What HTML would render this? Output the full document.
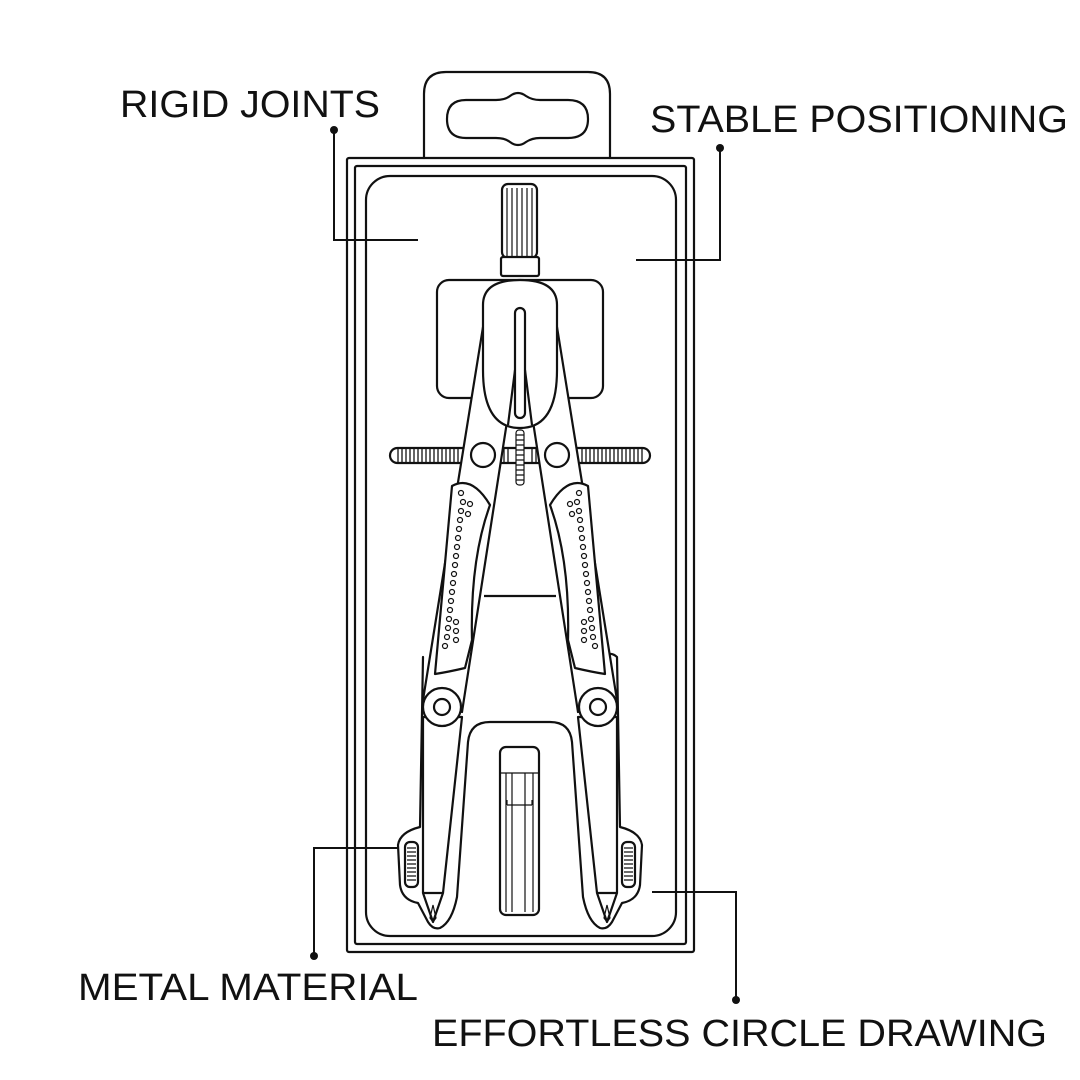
<!DOCTYPE html>
<html><head><meta charset="utf-8"><style>
html,body{margin:0;padding:0;background:#fff;}
svg{display:block}
text{font-family:"Liberation Sans",sans-serif;fill:#111;}
</style></head><body>
<svg width="1080" height="1080" viewBox="0 0 1080 1080" xmlns="http://www.w3.org/2000/svg">
<g fill="none" stroke="#111" stroke-width="2.2" stroke-linejoin="round" stroke-linecap="round">
<!-- hanger -->
<path d="M424,158 L424,94 Q424,72 446,72 L588,72 Q610,72 610,94 L610,158"/>
<path d="M466,100 L496,100 Q505,100 510,96 Q518,90 526,96 Q532,100 540,100 L568,100 Q588,100 588,119 Q588,138 568,138 L540,138 Q532,138 526,142 Q518,148 510,142 Q505,138 496,138 L466,138 Q447,138 447,119 Q447,100 466,100Z"/>
<!-- package -->
<rect x="347" y="158" width="347" height="794" rx="2"/>
<rect x="355" y="166" width="331" height="778" rx="2"/>
<rect x="366" y="176" width="310" height="760" rx="24"/>
<!-- head plate -->
<rect x="437" y="280" width="166" height="118" rx="12"/>
<!-- back plate lower -->
<path d="M423,657 L420,827 Q400,832 398,845 L400,885 Q402,900 418,903 L428,922 Q433,930 440,928 Q452,922 457,897 L468,742 Q470,722 490,722 L550,722 Q570,722 572,742 L583,897 Q588,922 600,928 Q607,930 612,922 L622,903 Q638,900 640,885 L642,845 Q640,832 620,827 L617,657 Q612,652 605,655"/>
<!-- bar -->
<rect x="390" y="448" width="260" height="15" rx="7.5" fill="#fff"/>
</g>
<!-- bar ridges -->
<g stroke="#111" stroke-width="1.3">
<path d="M398,449V462M402,449V462M406,449V462M410,449V462M414,449V462M418,449V462M422,449V462M426,449V462M430,449V462M434,449V462M438,449V462M442,449V462M446,449V462M450,449V462M454,449V462M458,449V462M500,449V462M504,449V462M508,449V462M532,449V462M536,449V462M540,449V462M582,449V462M586,449V462M590,449V462M594,449V462M598,449V462M602,449V462M606,449V462M610,449V462M614,449V462M618,449V462M622,449V462M626,449V462M630,449V462M634,449V462M638,449V462M642,449V462"/>
</g>
<g fill="#fff" stroke="#111" stroke-width="2.2" stroke-linejoin="round">
<!-- knob -->
<rect x="502" y="184" width="35" height="74" rx="6"/>
<rect x="501" y="257" width="38" height="19" rx="2"/>
<!-- legs upper -->
<path d="M483,327 L423,700 L462,712 L515,370Z"/>
<path d="M557,327 L617,700 L578,712 L525,370Z"/>
<!-- head -->
<path d="M483,305 Q483,280 520,280 Q557,280 557,305 L557,370 Q557,428 520,428 Q483,428 483,370Z"/>
<rect x="515" y="308" width="10" height="110" rx="5"/>
<path d="M515,370 L508,425 M525,370 L532,425"/>
<circle cx="483" cy="455" r="12"/>
<circle cx="557" cy="455" r="12"/>
<!-- grips -->
<path d="M452,486 Q472,475 490,505 Q470,560 472,640 L465,668 Q448,672 435,674 Z"/>
<path d="M588,486 Q568,475 550,505 Q570,560 568,640 L575,668 Q592,672 605,674 Z"/>
<!-- cross line -->
<path d="M484,596 L556,596" fill="none"/>
<!-- lower legs -->
<path d="M423,717 L462,717 L443,893 L433,922 L423,893Z"/>
<path d="M617,717 L578,717 L597,893 L607,922 L617,893Z"/>
<path d="M423,893 L443,893 M597,893 L617,893" fill="none"/>
<circle cx="442" cy="707" r="19"/>
<circle cx="442" cy="707" r="8"/>
<circle cx="598" cy="707" r="19"/>
<circle cx="598" cy="707" r="8"/>
<!-- small knobs -->
<rect x="405" y="842" width="13" height="45" rx="5"/>
<rect x="622" y="842" width="13" height="45" rx="5"/>
<!-- lead case -->
<rect x="500" y="747" width="39" height="168" rx="6"/>
</g>
<g stroke="#111" stroke-width="1.2" fill="none">
<path d="M507,188V256M512,188V256M517,188V256M522,188V256M527,188V256M532,188V256"/>
<rect x="516" y="430" width="8" height="55" rx="3" fill="#fff"/>
<path d="M516,435H524M516,440H524M516,445H524M516,450H524M516,455H524M516,460H524M516,465H524M516,470H524M516,475H524M516,480H524"/>
<path d="M407,848H416M407,852H416M407,856H416M407,860H416M407,864H416M407,868H416M407,872H416M407,876H416M407,880H416M624,848H633M624,852H633M624,856H633M624,860H633M624,864H633M624,868H633M624,872H633M624,876H633M624,880H633"/>
<path d="M500,773H539M506,773V912M512,773V912M525,773V912M533,773V912M507,805H532M507,800V805M532,800V805"/>
<path d="M433,905 L430,918 L433,922 L436,918Z M607,905 L604,918 L607,922 L610,918Z"/>
</g>
<!-- grip dots -->
<g fill="none" stroke="#111" stroke-width="1.2">
<circle cx="461" cy="493" r="2.5"/><circle cx="463" cy="502" r="2.5"/><circle cx="470" cy="504" r="2.5"/><circle cx="461" cy="511" r="2.5"/><circle cx="468" cy="514" r="2.5"/><circle cx="460" cy="520" r="2.5"/><circle cx="459" cy="529" r="2.5"/><circle cx="458" cy="538" r="2.5"/><circle cx="457" cy="547" r="2.5"/><circle cx="456" cy="556" r="2.5"/><circle cx="455" cy="565" r="2.5"/><circle cx="454" cy="574" r="2.5"/><circle cx="453" cy="583" r="2.5"/><circle cx="452" cy="592" r="2.5"/><circle cx="451" cy="601" r="2.5"/><circle cx="450" cy="610" r="2.5"/><circle cx="449" cy="619" r="2.5"/><circle cx="456" cy="622" r="2.5"/><circle cx="448" cy="628" r="2.5"/><circle cx="456" cy="631" r="2.5"/><circle cx="447" cy="637" r="2.5"/><circle cx="456" cy="640" r="2.5"/><circle cx="445" cy="646" r="2.5"/>
<circle cx="579" cy="493" r="2.5"/><circle cx="577" cy="502" r="2.5"/><circle cx="570" cy="504" r="2.5"/><circle cx="579" cy="511" r="2.5"/><circle cx="572" cy="514" r="2.5"/><circle cx="580" cy="520" r="2.5"/><circle cx="581" cy="529" r="2.5"/><circle cx="582" cy="538" r="2.5"/><circle cx="583" cy="547" r="2.5"/><circle cx="584" cy="556" r="2.5"/><circle cx="585" cy="565" r="2.5"/><circle cx="586" cy="574" r="2.5"/><circle cx="587" cy="583" r="2.5"/><circle cx="588" cy="592" r="2.5"/><circle cx="589" cy="601" r="2.5"/><circle cx="590" cy="610" r="2.5"/><circle cx="591" cy="619" r="2.5"/><circle cx="584" cy="622" r="2.5"/><circle cx="592" cy="628" r="2.5"/><circle cx="584" cy="631" r="2.5"/><circle cx="593" cy="637" r="2.5"/><circle cx="584" cy="640" r="2.5"/><circle cx="595" cy="646" r="2.5"/>
</g>
<!-- leaders -->
<g fill="none" stroke="#111" stroke-width="2">
<path d="M334,130 V240 H418"/>
<path d="M720,148 V260 H636"/>
<path d="M314,956 V848 H398"/>
<path d="M736,1000 V892 H652"/>
</g>
<g fill="#111">
<circle cx="334" cy="130" r="4"/><circle cx="720" cy="148" r="4"/><circle cx="314" cy="956" r="4"/><circle cx="736" cy="1000" r="4"/>
</g>
<text x="120" y="117" font-size="38" textLength="260" lengthAdjust="spacingAndGlyphs">RIGID JOINTS</text>
<text x="650" y="132" font-size="38" textLength="418" lengthAdjust="spacingAndGlyphs">STABLE POSITIONING</text>
<text x="78" y="1000" font-size="38" textLength="340" lengthAdjust="spacingAndGlyphs">METAL MATERIAL</text>
<text x="432" y="1046" font-size="38" textLength="615" lengthAdjust="spacingAndGlyphs">EFFORTLESS CIRCLE DRAWING</text>
</svg>
</body></html>
